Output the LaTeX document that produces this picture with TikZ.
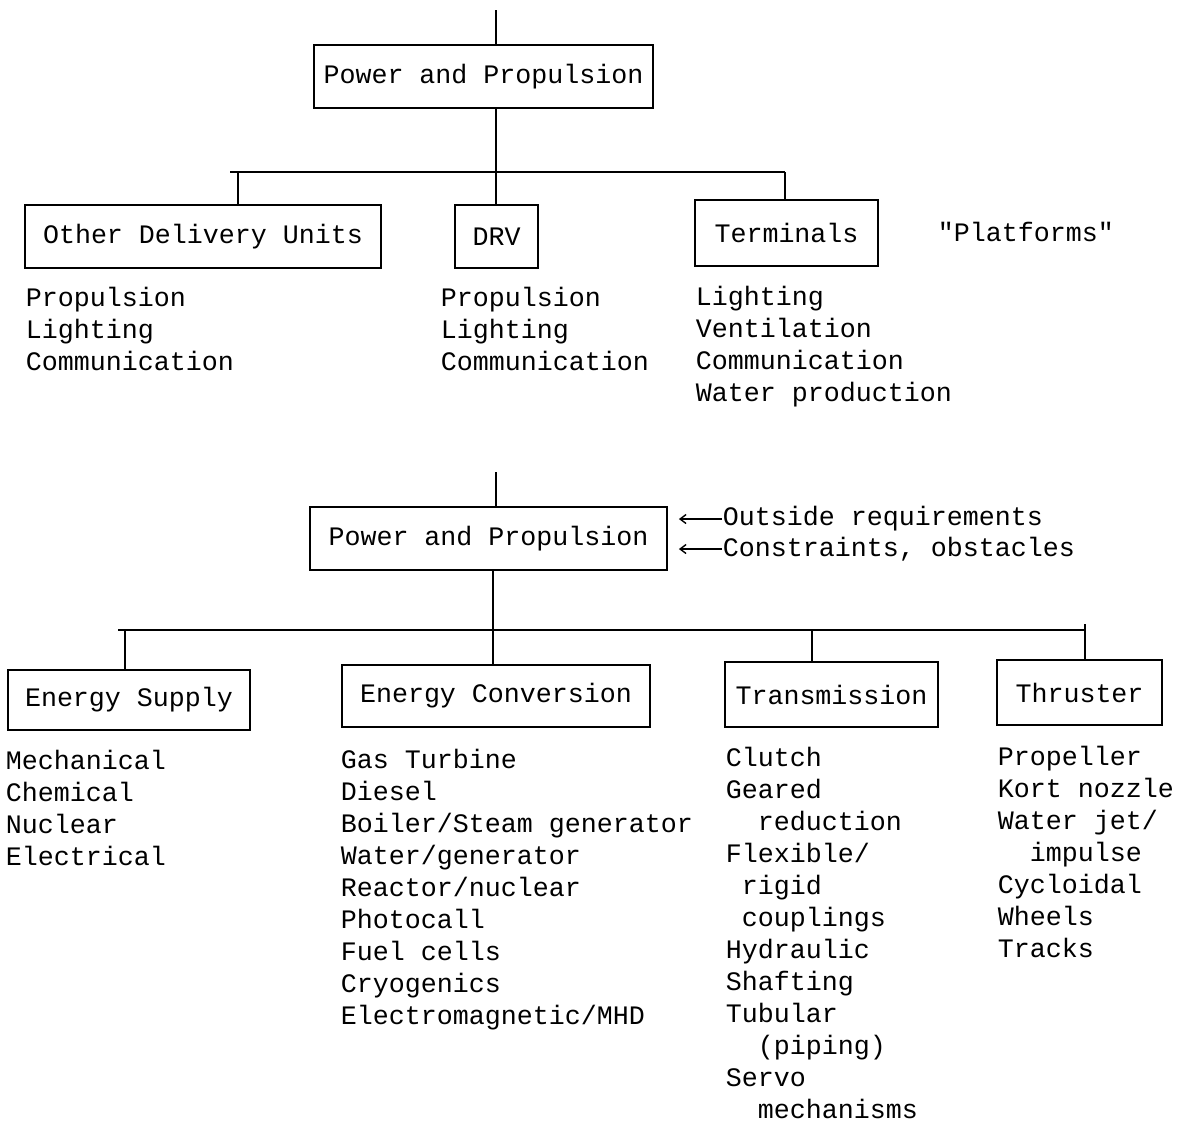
\documentclass[tikz,border=0pt]{standalone}
\usepackage{fontspec}
\setmainfont{Liberation Mono}[Ligatures=TeXOff]
\usetikzlibrary{arrows.meta}
\newcommand\liststrut{\rule{0pt}{12pt}}
\begin{document}
\begin{tikzpicture}[x=0.5pt,y=-0.5pt,line width=0.9pt,
  every node/.style={font=\fontsize{13.33pt}{16pt}\selectfont},
  box/.style={draw,inner sep=0pt,line width=0.9pt},
  itemlist/.style={anchor=north west,inner sep=0pt,align=left},
  label/.style={anchor=west,inner sep=0pt},
  inarrow/.style={-{Straight Barb[length=3pt,width=4.5pt]},shorten >=5.5pt,line width=0.7pt}]
\useasboundingbox (0,0) rectangle (1177,1121);

% ---------- upper tree ----------
\coordinate (t0) at (496,10);
\node[box,minimum width=169.5pt,minimum height=31.5pt] (pp1) at (483.5,76.5) {Power and Propulsion};
\coordinate (j1) at (496,172);
\coordinate (hl1) at (230,172);
\coordinate (hr1) at (785,172);
\coordinate (d1) at (238,172);
\node[box,minimum width=178pt,minimum height=31.5pt] (odu) at (203,236.5) {Other Delivery Units};
\node[box,minimum width=41.5pt,minimum height=31.5pt] (drv) at (496.5,236.5) {DRV};
\node[box,minimum width=91.5pt,minimum height=33pt] (term) at (786.5,233) {Terminals};
\node[label] (plat) at (937,232) {"Platforms"};

\draw (t0) -- (t0 |- pp1.north);
\draw (pp1.south -| j1) -- (j1);
\draw (hl1) -- (hr1);
\draw (d1) -- (d1 |- odu.north);
\draw (j1) -- (j1 |- drv.north);
\draw (hr1) -- (hr1 |- term.north);

\node[itemlist] (oduL) at (25,282) {\liststrut Propulsion\\Lighting\\Communication};
\node[itemlist] (drvL) at (440,282) {\liststrut Propulsion\\Lighting\\Communication};
\node[itemlist] (termL) at (695,281) {\liststrut Lighting\\Ventilation\\Communication\\Water production};

% ---------- lower tree ----------
\coordinate (t1) at (496,472);
\node[box,minimum width=178.5pt,minimum height=31.5pt] (pp2) at (488.5,538.5) {Power and Propulsion};
\node[label] (req) at (722,519) {Outside requirements};
\node[label] (con) at (722,549) {Constraints, obstacles};
\draw[inarrow] (req.west) -- (req.west -| pp2.east);
\draw[inarrow] (con.west) -- (con.west -| pp2.east);

\coordinate (j2) at (493,630);
\coordinate (hl2) at (118,630);
\coordinate (hr2) at (1085,630);
\coordinate (d2) at (125,630);
\coordinate (d3) at (812,630);
\coordinate (d4) at (1085,624);

\node[box,minimum width=121pt,minimum height=30pt] (es) at (129,700) {Energy Supply};
\node[box,minimum width=154pt,minimum height=31pt] (ec) at (496,696) {Energy Conversion};
\node[box,minimum width=106.5pt,minimum height=32.5pt] (tr) at (831.5,694.5) {Transmission};
\node[box,minimum width=82.5pt,minimum height=32.5pt] (th) at (1079.5,692.5) {Thruster};

\draw (t1) -- (t1 |- pp2.north);
\draw (pp2.south -| j2) -- (j2);
\draw (hl2) -- (hr2);
\draw (d2) -- (d2 |- es.north);
\draw (j2) -- (j2 |- ec.north);
\draw (d3) -- (d3 |- tr.north);
\draw (d4) -- (d4 |- th.north);

\node[itemlist] (esL) at (5,745) {\liststrut Mechanical\\Chemical\\Nuclear\\Electrical};
\node[itemlist] (ecL) at (340,744) {\liststrut Gas Turbine\\Diesel\\Boiler/Steam generator\\Water/generator\\Reactor/nuclear\\Photocall\\Fuel cells\\Cryogenics\\Electromagnetic/MHD};
\node[itemlist] (trL) at (725,742) {\liststrut Clutch\\Geared\\\hspace*{16pt}reduction\\Flexible/\\\hspace*{8pt}rigid\\\hspace*{8pt}couplings\\Hydraulic\\Shafting\\Tubular\\\hspace*{16pt}(piping)\\Servo\\\hspace*{16pt}mechanisms};
\node[itemlist] (thL) at (997,741) {\liststrut Propeller\\Kort nozzle\\Water jet/\\\hspace*{16pt}impulse\\Cycloidal\\Wheels\\Tracks};
\end{tikzpicture}
\end{document}
